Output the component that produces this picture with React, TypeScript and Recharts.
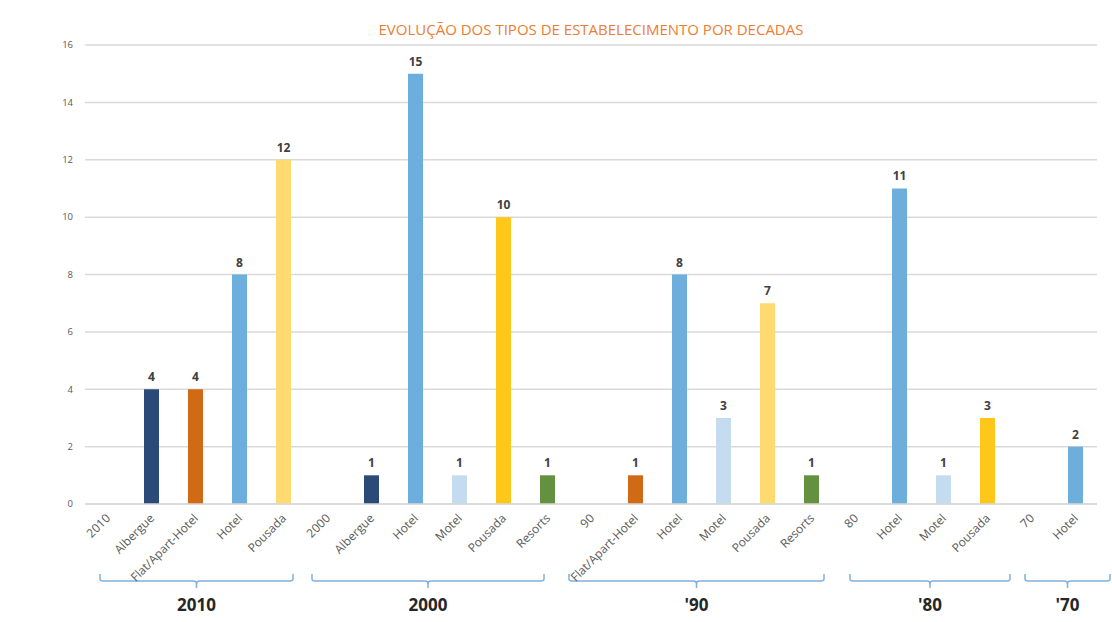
import React from 'react';
import { BarChart, Bar, XAxis, YAxis, CartesianGrid, Cell, LabelList } from 'recharts';

const TITLE = 'EVOLUÇÃO DOS TIPOS DE ESTABELECIMENTO POR DECADAS';

const categories = [
  '2010', 'Albergue', 'Flat/Apart-Hotel', 'Hotel', 'Pousada',
  '2000', 'Albergue', 'Hotel', 'Motel', 'Pousada', 'Resorts',
  '90', 'Flat/Apart-Hotel', 'Hotel', 'Motel', 'Pousada', 'Resorts',
  '80', 'Hotel', 'Motel', 'Pousada',
  '70', 'Hotel',
];
const counts = [
  null, 4, 4, 8, 12,
  null, 1, 15, 1, 10, 1,
  null, 1, 8, 3, 7, 1,
  null, 11, 1, 3,
  null, 2,
];
const groupLabels = ['2010', '2000', "'90", "'80", "'70"];
const groupSizes = [5, 6, 6, 4, 2];
const yTicks = [0, 2, 4, 6, 8, 10, 12, 14, 16];

// styling
const NAVY = '#2C4A78';
const ORANGE = '#D06A14';
const BLUE = '#6DAEDD';
const PALE_BLUE = '#C5DCF0';
const PALE_YELLOW = '#FFDA70';
const GOLD = '#FFC71A';
const GREEN = '#64913F';
const barColors = [
  'none', NAVY, ORANGE, BLUE, PALE_YELLOW,
  'none', NAVY, BLUE, PALE_BLUE, GOLD, GREEN,
  'none', ORANGE, BLUE, PALE_BLUE, PALE_YELLOW, GREEN,
  'none', BLUE, PALE_BLUE, GOLD,
  'none', BLUE,
];
// hand-drawn bracket insets (left, right) in px from the band edges
const bracketInsets = [[15, 12], [7, 25], [0, 9], [17, -1], [16, -13]];
const FONT = '"Open Sans", "DejaVu Sans", sans-serif';

const data = categories.map((name, i) => ({ name, count: counts[i] }));

const groupStarts: number[] = [];
groupSizes.reduce((acc, n) => {
  groupStarts.push(acc);
  return acc + n;
}, 0);

const GroupTick = (props: any) => {
  const { x, y, payload } = props;
  const idx = payload.index;
  const half = payload.offset || 22;
  const g = groupStarts.indexOf(idx);
  let bracket = null;
  if (g >= 0) {
    const n = groupSizes[g];
    const left = x - half + bracketInsets[g][0];
    const right = x + (2 * n - 1) * half - bracketInsets[g][1];
    const mid = (left + right) / 2;
    const top = y + 62;
    const line = y + 69;
    const path = `M${left},${top} L${left},${line - 2} Q${left},${line} ${left + 3},${line} L${mid - 3},${line} Q${mid},${line} ${mid},${line + 3} L${mid},${line + 7} M${mid},${line + 3} Q${mid},${line} ${mid + 3},${line} L${right - 3},${line} Q${right},${line} ${right},${line - 2} L${right},${top}`;
    bracket = (
      <g>
        <path d={path} fill="none" stroke="#7EB1DE" strokeWidth={1.5} />
        <text x={mid} y={y + 99} textAnchor="middle" fontSize={17} fontWeight={700} fill="#262626" fontFamily={FONT}>
          {groupLabels[g]}
        </text>
      </g>
    );
  }
  return (
    <g>
      <text
        x={0}
        y={0}
        transform={`translate(${x + 4},${y + 7}) rotate(-45)`}
        textAnchor="end"
        fontSize={12}
        fill="#595959"
        fontFamily={FONT}
      >
        {payload.value}
      </text>
      {bracket}
    </g>
  );
};

const App = () => {
  return (
    <div style={{ position: 'absolute', left: 0, top: 0, width: 1112, height: 622, background: '#fff' }}>
      <div
        style={{
          position: 'absolute',
          left: 85,
          width: 1012,
          top: 19,
          textAlign: 'center',
          fontFamily: FONT,
          fontSize: 15,
          color: '#ED7D31',
        }}
      >
        {TITLE}
      </div>
      <BarChart width={1112} height={622} data={data} margin={{ top: 45, right: 15, left: 0, bottom: 0 }}>
        <CartesianGrid vertical={false} stroke="#D9D9D9" strokeWidth={1.5} />
        <XAxis
          dataKey="name"
          interval={0}
          height={118}
          axisLine={{ stroke: '#D9D9D9', strokeWidth: 1.5 }}
          tickLine={false}
          tick={<GroupTick />}
        />
        <YAxis
          width={85}
          domain={[0, 16]}
          ticks={yTicks}
          axisLine={false}
          tickLine={false}
          tickMargin={6}
          tick={{ fontSize: 9.5, fill: '#595959', fontFamily: FONT }}
        />
        <Bar dataKey="count" barSize={15} isAnimationActive={false}>
          {data.map((d, i) => (
            <Cell key={`c-${i}`} fill={barColors[i]} />
          ))}
          <LabelList
            dataKey="count"
            position="top"
            offset={8}
            style={{ fontSize: 12, fontWeight: 700, fill: '#404040', fontFamily: FONT }}
          />
        </Bar>
      </BarChart>
    </div>
  );
};

export default App;
